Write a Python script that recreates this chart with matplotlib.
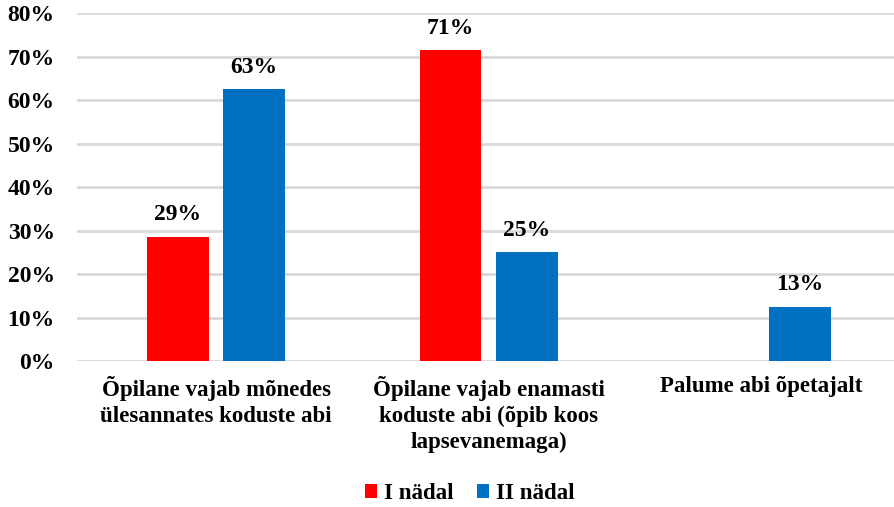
import matplotlib.pyplot as plt
import numpy as np
from matplotlib.ticker import PercentFormatter

categories = ["Õpilane vajab mõnedes\nülesannates koduste abi",
              "Õpilane vajab enamasti\nkoduste abi (õpib koos\nlapsevanemaga)",
              "Palume abi õpetajalt"]
week1 = [28.57, 71.43, 0]
week2 = [62.5, 25.0, 12.5]
labels1 = ["29%", "71%", ""]
labels2 = ["63%", "25%", "13%"]

plt.rcParams['font.family'] = ['Liberation Serif', 'DejaVu Serif']
plt.rcParams['font.weight'] = 'bold'

fig = plt.figure(figsize=(8.95, 5.07), dpi=100)
ax = fig.add_axes([0.086, 0.288, 0.914, 0.686])

x = np.arange(len(categories))
w = 0.227
off = 0.14
b1 = ax.bar(x - off, week1, w, color='#ff0000', label='I nädal', zorder=3)
b2 = ax.bar(x + off, week2, w, color='#0070c0', label='II nädal', zorder=3)

for bars, labs in [(b1, labels1), (b2, labels2)]:
    for b, t in zip(bars, labs):
        if t:
            ax.text(b.get_x() + b.get_width() / 2, b.get_height() + 2.6, t,
                    ha='center', va='bottom', fontsize=17, fontweight='bold')

ax.set_xlim(-0.51, 2.49)
ax.set_ylim(0, 80)
ax.set_yticks(range(0, 81, 10))
ax.yaxis.set_major_formatter(PercentFormatter(decimals=0))
ax.grid(axis='y', color='#d9d9d9', linewidth=2, zorder=0)
ax.set_xticks(x)
ax.set_xticklabels(categories, fontsize=16.5, fontweight='bold', linespacing=1.3)
ax.tick_params(axis='both', length=0, labelsize=17)
ax.tick_params(axis='x', pad=11, labelsize=16.5)
ax.tick_params(axis='y', pad=16)
for lab in ax.get_yticklabels():
    lab.set_fontweight('bold')
for s in ax.spines.values():
    s.set_visible(False)

fig.legend(loc='lower center', ncol=2, frameon=False, fontsize=16.5,
           bbox_to_anchor=(0.525, -0.035), handlelength=0.55, handleheight=0.55,
           handletextpad=0.3, columnspacing=1.0)

fig.savefig('out.png', dpi=100)
